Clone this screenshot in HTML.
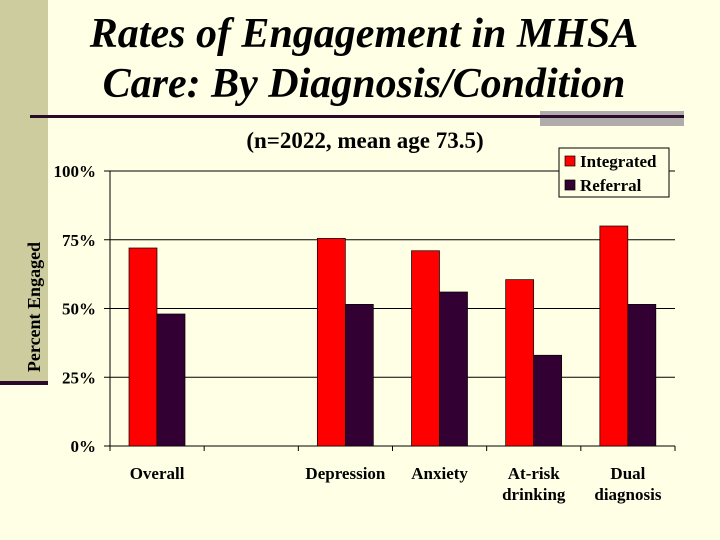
<!DOCTYPE html>
<html><head><meta charset="utf-8"><style>
body{margin:0;background:#FFFFE5;}
svg{display:block;font-family:"Liberation Serif",serif;}
</style></head><body>
<svg width="720" height="540" viewBox="0 0 720 540">
<rect x="0" y="0" width="720" height="540" fill="#FFFFE5"/>
<rect x="0" y="0" width="48" height="384" fill="#CCCC9E"/>
<rect x="0" y="381" width="48" height="4" fill="#2A0A2A"/>
<rect x="540" y="111" width="144" height="15" fill="#B0ACAC"/>
<rect x="30" y="115" width="654" height="3" fill="#2A0A2A"/>
<text x="364" y="47" text-anchor="middle" font-size="42" font-style="italic" font-weight="bold">Rates of Engagement in MHSA</text>
<text x="364" y="97" text-anchor="middle" font-size="42" font-style="italic" font-weight="bold">Care: By Diagnosis/Condition</text>
<text x="365" y="148" text-anchor="middle" font-size="23" font-weight="bold">(n=2022, mean age 73.5)</text>
<text transform="translate(40,307) rotate(-90)" text-anchor="middle" font-size="18" font-weight="bold">Percent Engaged</text>
<g id="chart"></g>
<g>
<rect x="559" y="148" width="110" height="49" fill="#FFFFE5" stroke="#000"/>
<rect x="565" y="156" width="10" height="10" fill="#FF0000" stroke="#000" stroke-width="0.7"/>
<text x="580" y="167" font-size="17" font-weight="bold">Integrated</text>
<rect x="565" y="180" width="10" height="10" fill="#330033" stroke="#000" stroke-width="0.7"/>
<text x="580" y="191" font-size="17" font-weight="bold">Referral</text>
</g>
</svg>
<script>
const categories=[["Overall"],[],["Depression"],["Anxiety"],["At-risk","drinking"],["Dual","diagnosis"]];
const integrated=[72,null,75.5,71,60.5,80];
const referral=[48,null,51.5,56,33,51.5];
const ticks=[0,25,50,75,100];
const NS="http://www.w3.org/2000/svg";
const g=document.getElementById('chart');
const X0=110,X1=675,Y0=446,Y1=171;
const cw=(X1-X0)/categories.length;
const y=v=>Y0-(v/100)*(Y0-Y1);
function mk(t,a){const e=document.createElementNS(NS,t);for(const k in a)e.setAttribute(k,a[k]);g.appendChild(e);return e;}
ticks.forEach(t=>{
 const l=mk('line',{x1:X0-6,x2:X1,y1:y(t),y2:y(t),stroke:'#000','stroke-width':1});
 
 
 const tx=mk('text',{x:X0-14,y:y(t)+6,'text-anchor':'end','font-size':17,'font-weight':'bold'});
 tx.textContent=t+'%';
 
 
});
const ax=mk('line',{x1:X0,x2:X0,y1:Y1,y2:Y0,stroke:'#000'});


for(let i=0;i<=categories.length;i++){
 const t=mk('line',{x1:X0+i*cw,x2:X0+i*cw,y1:Y0,y2:Y0+5,stroke:'#000'});
 
 
}
categories.forEach((c,i)=>{
 const cx=X0+i*cw, bw=28, off=19;
 if(integrated[i]!=null){
  const r=mk('rect',{x:cx+off,y:y(integrated[i]),width:bw,height:Y0-y(integrated[i]),fill:'#FF0000',stroke:'#000','stroke-width':0.7});
  
  
 }
 if(referral[i]!=null){
  const r=mk('rect',{x:cx+off+bw,y:y(referral[i]),width:bw,height:Y0-y(referral[i]),fill:'#330033',stroke:'#000','stroke-width':0.7});
  
  
 }
 c.forEach((ln,j)=>{
  const t=mk('text',{x:cx+cw/2,y:479+j*21,'text-anchor':'middle','font-size':17,'font-weight':'bold'});
  t.textContent=ln;
  
  
 });
});
</script>
</body></html>
